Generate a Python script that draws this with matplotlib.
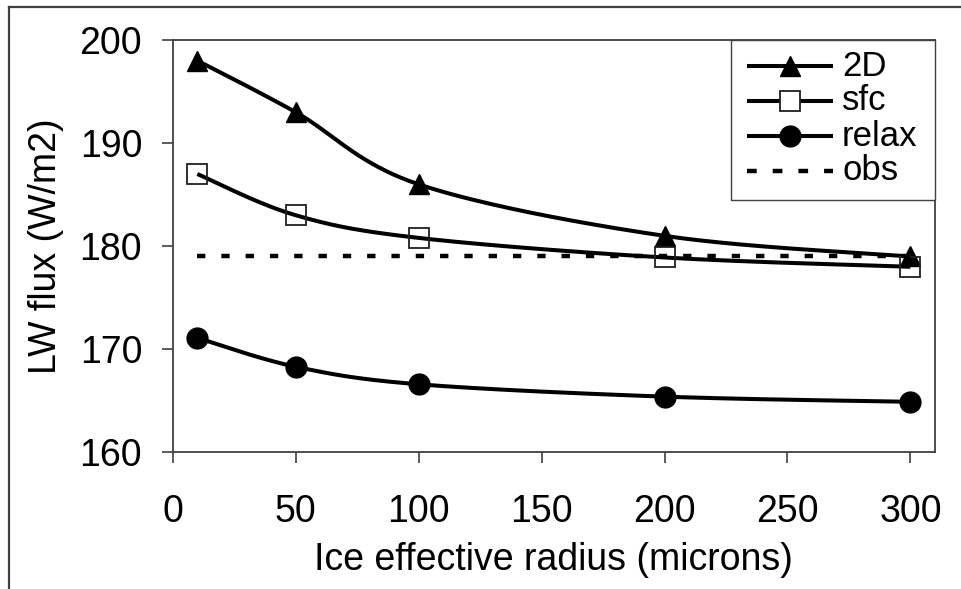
import numpy as np
import matplotlib
matplotlib.use("Agg")
import matplotlib.pyplot as plt
from matplotlib.lines import Line2D
from matplotlib.patches import Rectangle

plt.rcParams['font.family'] = ['Liberation Sans', 'DejaVu Sans']
plt.rcParams['lines.scale_dashes'] = False

# Data
radius = [10, 50, 100, 200, 300]
flux_2d = [198.0, 193.0, 186.0, 181.0, 179.0]
flux_sfc = [187.0, 183.0, 180.8, 178.9, 178.0]
flux_relax = [171.1, 168.3, 166.6, 165.4, 164.9]
flux_obs = 179.0
series_labels = ["2D", "sfc", "relax", "obs"]
xticks = [0, 50, 100, 150, 200, 250, 300]
yticks = [160, 170, 180, 190, 200]


def smooth(xs, ys, n=40):
    """Catmull-Rom style smoothing through the points (cubic Bezier segments)."""
    p = np.column_stack([xs, ys]).astype(float)
    ext = np.vstack([p[0], p, p[-1]])
    out = []
    t = np.linspace(0, 1, n)[:, None]
    for i in range(len(p) - 1):
        p0, p1, p2, p3 = ext[i], ext[i + 1], ext[i + 2], ext[i + 3]
        b1 = p1 + (p2 - p0) / 6.0
        b2 = p2 - (p3 - p1) / 6.0
        seg = ((1 - t) ** 3) * p1 + 3 * ((1 - t) ** 2) * t * b1 \
            + 3 * (1 - t) * t ** 2 * b2 + t ** 3 * p2
        out.append(seg if i == 0 else seg[1:])
    c = np.vstack(out)
    return c[:, 0], c[:, 1]


W, H = 962, 589
fig = plt.figure(figsize=(W / 100, H / 100), dpi=100)
ax = fig.add_axes([172.7 / W, 1 - 452.3 / H, (935 - 172.7) / W, (452.3 - 40) / H])

frame_col = '#404040'
lw = 2.9

# 2D
sx, sy = smooth(radius, flux_2d)
ax.plot(sx, sy, color='black', lw=lw, solid_capstyle='butt', zorder=3)
ax.plot(radius, flux_2d, ls='none', marker='^', ms=15, mfc='black', mec='black', zorder=4)

# sfc
sx, sy = smooth(radius, flux_sfc)
ax.plot(sx, sy, color='black', lw=lw, solid_capstyle='butt', zorder=3)
ax.plot(radius, flux_sfc, ls='none', marker='s', ms=14, mfc='none', mec='#202020', mew=1.3, zorder=4)

# relax
sx, sy = smooth(radius, flux_relax)
ax.plot(sx, sy, color='black', lw=lw, solid_capstyle='butt', zorder=3)
ax.plot(radius, flux_relax, ls='none', marker='o', ms=15, mfc='black', mec='black', zorder=4)

# obs
obs_line, = ax.plot([radius[0], radius[-1]], [flux_obs, flux_obs], color='black', lw=3.2,
                    solid_capstyle='butt', dash_capstyle='butt', zorder=5)
obs_line.set_dashes([6, 11.5])

ax.set_xlim(0, 310)
ax.set_ylim(160, 200)
ax.set_xticks(xticks)
ax.set_yticks(yticks)
ax.tick_params(axis='both', direction='out', length=8, width=1.2, color=frame_col,
               labelsize=27)
ax.tick_params(axis='y', pad=14)
ax.tick_params(axis='x', pad=22)
for s in ax.spines.values():
    s.set_color(frame_col)
    s.set_linewidth(1.3)

ax.set_xlabel("Ice effective radius (microns)", fontsize=27)
ax.set_ylabel("LW flux (W/m2)", fontsize=27)
ax.xaxis.label.set_va('center')
ax.yaxis.label.set_va('center')
ax.xaxis.set_label_coords(0.5, (452.3 - 560) / 412.3)
ax.yaxis.set_label_coords((46 - 172.7) / 762.3, 0.5)

# Legend box drawn in axes coordinates
bx0 = (731 - 172.7) / 762.3
by0 = (452.3 - 200) / 412.3
ax.add_patch(Rectangle((bx0, by0), 1 - bx0, 1 - by0, transform=ax.transAxes,
                       facecolor='white', edgecolor=frame_col, lw=1.0, zorder=6,
                       clip_on=False))
hx0 = (747 - 172.7) / 762.3
hx1 = (833 - 172.7) / 762.3
hxm = (hx0 + hx1) / 2
tx = (842 - 172.7) / 762.3
rows = [(452.3 - y) / 412.3 for y in (66, 101, 136, 171)]
styles = [dict(marker='^', ms=15, mfc='black', mec='black'),
          dict(marker='s', ms=14, mfc='white', mec='#202020', mew=1.3),
          dict(marker='o', ms=15, mfc='black', mec='black'),
          None]
for lab, ry, st in zip(series_labels, rows, styles):
    if st is None:
        ln = Line2D([hx0, hx1], [ry, ry], transform=ax.transAxes, color='black', lw=3.2,
                    dash_capstyle='butt', zorder=7, clip_on=False)
        ln.set_dashes([7, 11.5])
        ax.add_line(ln)
    else:
        ax.add_line(Line2D([hx0, hx1], [ry, ry], transform=ax.transAxes, color='black',
                           lw=lw, solid_capstyle='butt', zorder=7, clip_on=False))
        ax.add_line(Line2D([hxm], [ry], transform=ax.transAxes, ls='none', zorder=8,
                           clip_on=False, **st))
    ax.text(tx, ry, lab, transform=ax.transAxes, fontsize=25, va='center',
            ha='left', zorder=8)

# Outer frame along the top and left edges
fig.add_artist(Line2D([9 / W, 9 / W], [0, 1 - 7 / H], color=frame_col, lw=1.6))
fig.add_artist(Line2D([9 / W, 1], [1 - 7 / H, 1 - 7 / H], color=frame_col, lw=1.6))

fig.savefig("out.png", dpi=100)
